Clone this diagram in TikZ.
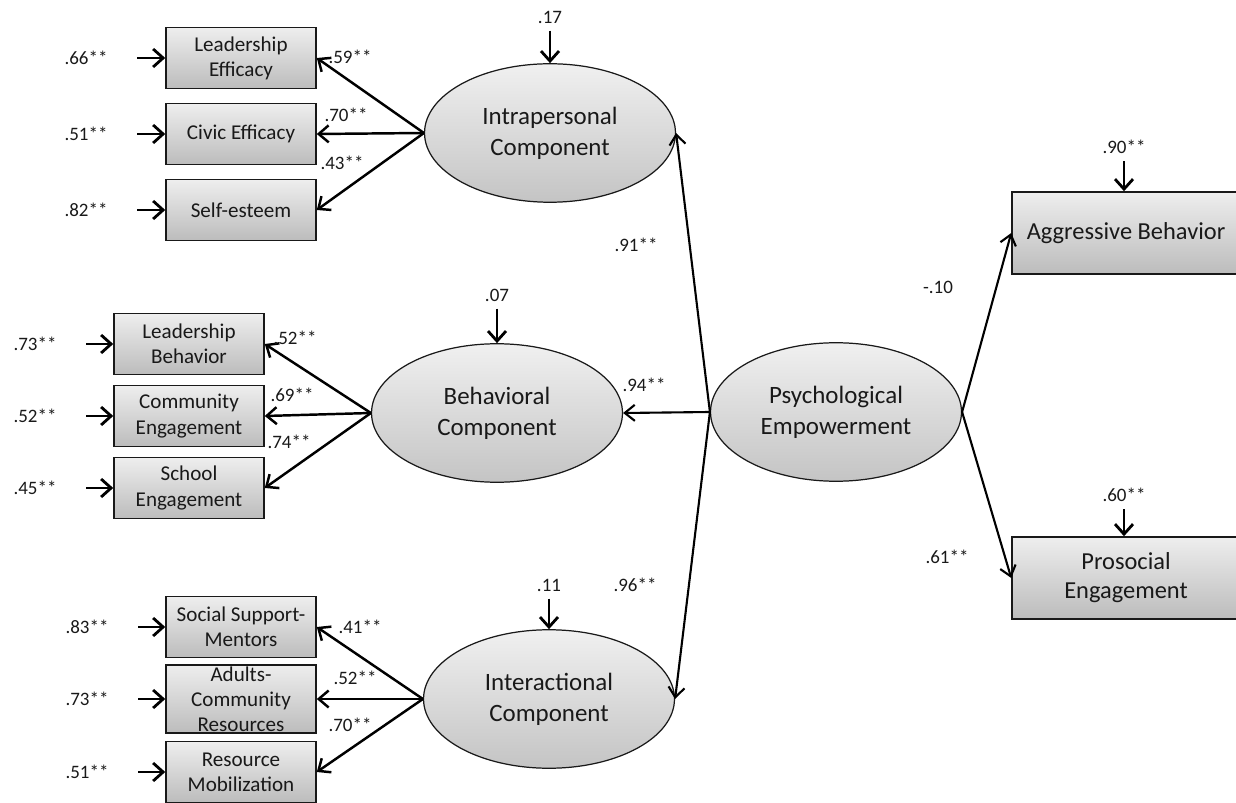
\documentclass[tikz,border=0pt]{standalone}
\usepackage{fontspec}
\setmainfont{Carlito}
\usetikzlibrary{positioning,arrows.meta,shapes.geometric}
\definecolor{boxtop}{RGB}{238,238,238}
\definecolor{boxbot}{RGB}{188,188,188}
\definecolor{elltop}{RGB}{240,240,240}
\definecolor{ellbot}{RGB}{196,196,196}
\definecolor{ink}{RGB}{25,25,25}

\begin{document}
\begin{tikzpicture}[x=0.02cm,y=-0.02cm,
  ind/.style={draw=ink,line width=0.9pt,top color=boxtop,bottom color=boxbot,
    minimum width=3cm,minimum height=1.22cm,inner sep=1pt,align=center,
    text=ink,font=\fontsize{12}{14.3}\selectfont},
  outc/.style={ind,minimum width=4.56cm,minimum height=1.64cm,
    font=\fontsize{13.9}{16.5}\selectfont},
  lat/.style={ellipse,draw=ink,line width=0.7pt,top color=elltop,bottom color=ellbot,
    minimum width=5.02cm,minimum height=2.77cm,inner sep=0pt,align=center,
    text=ink,font=\fontsize{14.2}{17.5}\selectfont},
  num/.style={text=ink,inner sep=1pt,font=\fontsize{10.8}{13}\selectfont},
  err/.style={line width=1.6pt,-{Straight Barb[length=2mm,width=3.6mm]}},
  load/.style={line width=1.4pt,-{Straight Barb[length=2mm,width=3.4mm]}},
  path/.style={line width=1.2pt,-{Straight Barb[length=2mm,width=3.2mm]}}]
\useasboundingbox (0,0) rectangle (1236,803);

% latent components
\node[lat] (intra) at (550,133) {Intrapersonal\\Component};
\node[lat] (behav) at (497,413) {Behavioral\\Component};
\node[lat] (inter) at (549,699) {Interactional\\Component};
\node[lat] (psy) at (836,412) {Psychological\\Empowerment};

% outcomes
\node[outc] (aggr) at (1126,233) {Aggressive Behavior};
\node[outc] (pros) at (1126,578) {Prosocial\\Engagement};

% intrapersonal indicators
\foreach \t/\y/\e/\l/\ly [count=\i] in {
{Leadership\\Efficacy}/58/.66**/.59**/57,
{Civic Efficacy}/134/.51**/.70**/115,
{Self-esteem}/210/.82**/.43**/163}{
\node[ind] (ia\i) at (241,\y) {\t};
\node[num] (iae\i) at (86,\y) {\e};
\draw[err,shorten <=0.55cm] (iae\i) -- (ia\i);
\draw[load] (intra.west) -- (ia\i.east);
\node[num] at (354-4*\i,\ly) {\l};
}

% behavioral indicators
\foreach \t/\y/\e/\l/\ly [count=\i] in {
{Leadership\\Behavior}/344/.73**/.52**/338,
{Community\\Engagement}/416/.52**/.69**/395,
{School\\Engagement}/488/.45**/.74**/442}{
\node[ind] (ib\i) at (189,\y) {\t};
\node[num] (ibe\i) at (35,\y) {\e};
\draw[err,shorten <=0.55cm] (ibe\i) -- (ib\i);
\draw[load] (behav.west) -- (ib\i.east);
\node[num] at (298-3*\i,\ly) {\l};
}

% interactional indicators
\foreach \t/\y/\e/\l/\ly [count=\i] in {
{Social Support-\\Mentors}/627/.83**/.41**/627,
{\fontsize{12}{12.6}\selectfont Adults-\\Community\\Resources}/699/.73**/.52**/678,
{Resource\\Mobilization}/772/.51**/.70**/725}{
\node[ind] (ic\i) at (241,\y) {\t};
\node[num] (ice\i) at (87,\y) {\e};
\draw[err,shorten <=0.55cm] (ice\i) -- (ic\i);
\draw[load] (inter.west) -- (ic\i.east);
\node[num] at (365-5*\i,\ly) {\l};
}

% disturbances
\node[num] (dintra) at (550,17) {.17};
\node[num] (dbehav) at (497,295) {.07};
\node[num] (dinter) at (549,585) {.11};
\node[num] (daggr) at (1124,147) {.90**};
\node[num] (dpros) at (1124,495) {.60**};
\foreach \d/\v in {dintra/intra,dbehav/behav,dinter/inter,daggr/aggr,dpros/pros}
\draw[err,shorten <=3pt] (\d) -- (\d |- \v.north);

% structural paths
\draw[path] (psy.west) -- (intra.east);
\draw[path] (psy.west) -- (behav.east);
\draw[path] (psy.west) -- (inter.east);
\draw[path] (psy.east) -- (aggr.west);
\draw[path] (psy.east) -- (pros.west);
\node[num] at (636,245) {.91**};
\node[num] at (644,385) {.94**};
\node[num] at (635,585) {.96**};
\node[num] at (938,287) {-.10};
\node[num] at (947,557) {.61**};
\end{tikzpicture}
\end{document}
